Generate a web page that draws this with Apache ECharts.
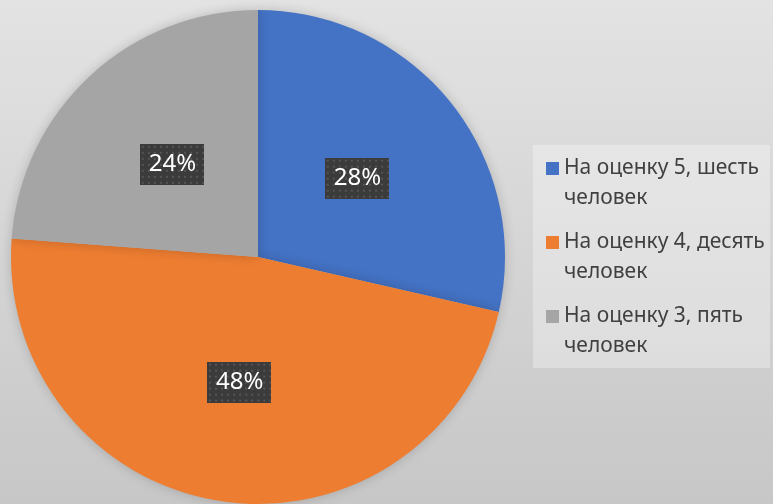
<!DOCTYPE html>
<html>
<head>
<meta charset="utf-8">
<script src="https://cdn.jsdelivr.net/npm/echarts@6/dist/echarts.min.js"></script>
<style>
html,body{margin:0;padding:0;}
#chart{width:773px;height:504px;}
</style>
</head>
<body>
<div id="chart"></div>
<script>
const categories = ['На оценку 5, шесть человек', 'На оценку 4, десять человек', 'На оценку 3, пять человек'];
const values = [6, 10, 5];
const colors = ['#4472C4', '#ED7D31', '#A5A5A5'];

function makePattern(w, h) {
  const c = document.createElement('canvas');
  c.width = w; c.height = h;
  const ctx = c.getContext('2d');
  ctx.fillStyle = '#3b3b3b';
  ctx.fillRect(0, 0, w, h);
  ctx.fillStyle = '#555555';
  for (let y = 2; y < h; y += 6) {
    for (let x = 2; x < w; x += 6) {
      ctx.fillRect(x, y, 2, 2);
    }
  }
  return c;
}
const pattern = makePattern(64, 41);

const chart = echarts.init(document.getElementById('chart'));
chart.setOption({
  animation: false,
  backgroundColor: {
    type: 'linear', x: 0, y: 0, x2: 0, y2: 1,
    colorStops: [{offset: 0, color: '#e3e3e3'}, {offset: 1, color: '#c7c7c7'}]
  },
  graphic: [{
    type: 'rect',
    shape: {x: 533, y: 145, width: 237, height: 223},
    style: {fill: 'rgba(255,255,255,0.3)'},
    z: 0
  }],
  legend: {
    orient: 'vertical',
    left: 541,
    top: 123,
    itemWidth: 13,
    itemHeight: 13,
    itemGap: -7,
    icon: 'rect',
    formatter: function (name) {
      const parts = name.split(/ (?=человек$)/);
      return '{e| }\n{t|' + parts[0] + '}\n{t|' + parts[1] + '}';
    },
    textStyle: {
      fontFamily: 'Noto Sans',
      fontSize: 21,
      color: '#404040',
      rich: {
        e: {fontSize: 21, lineHeight: 30, fontFamily: 'Noto Sans', color: '#404040'},
        t: {fontSize: 21, lineHeight: 30, fontFamily: 'Noto Sans', color: '#404040'}
      }
    }
  },
  series: [{
    type: 'pie',
    center: [258, 257],
    radius: 247,
    startAngle: 90,
    clockwise: true,
    percentPrecision: 0,
    color: colors,
    itemStyle: {
      shadowBlur: 12,
      shadowColor: 'rgba(0,0,0,0.18)'
    },
    emphasis: {disabled: true},
    labelLine: {show: false},
    label: {
      show: true,
      position: 'inside',
      formatter: '{d}%',
      fontFamily: 'Noto Sans',
      fontSize: 24,
      color: '#ffffff',
      backgroundColor: {image: pattern},
      padding: [7, 8, 5, 9],
      lineHeight: 29,
      shadowColor: 'rgba(0,0,0,0.45)',
      shadowBlur: 5,
      shadowOffsetX: 2,
      shadowOffsetY: 3
    },
    data: categories.map((n, i) => ({name: n, value: values[i]}))
  }]
});
</script>
</body>
</html>
